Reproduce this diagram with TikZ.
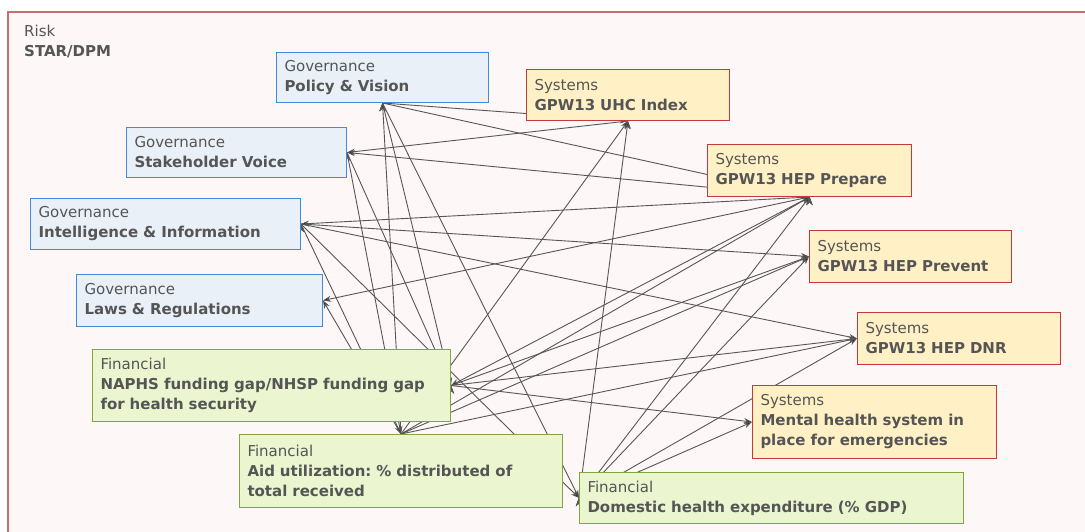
\documentclass[tikz,border=0pt]{standalone}
\usepackage{fontspec}
\setmainfont{DejaVu Sans}
\usetikzlibrary{arrows.meta}
\frenchspacing

\definecolor{govfill}{HTML}{EAF0F8}
\definecolor{govline}{HTML}{3D8BD9}
\definecolor{sysfill}{HTML}{FFF0C6}
\definecolor{sysline}{HTML}{C23A3A}
\definecolor{finfill}{HTML}{EBF5D0}
\definecolor{finline}{HTML}{7FA83C}
\definecolor{riskfill}{HTML}{FDF7F7}
\definecolor{riskline}{HTML}{C86E6E}
\definecolor{ink}{HTML}{555555}
\definecolor{wire}{HTML}{575757}

\pgfdeclarelayer{back}
\pgfdeclarelayer{wires}
\pgfsetlayers{back,wires,main}

\tikzset{
  box/.style={draw, line width=1pt, anchor=north west, align=left, inner xsep=8pt, inner ysep=0pt,
    font=\fontsize{15}{20}\selectfont, text=ink},
  gov/.style={box, fill=govfill, draw=govline},
  sys/.style={box, fill=sysfill, draw=sysline},
  fin/.style={box, fill=finfill, draw=finline},
  link/.style={draw=wire, line width=0.9pt, -{Stealth[length=8pt,width=6pt]}}
}

\begin{document}
\begin{tikzpicture}[x=1pt,y=-1pt]
  \useasboundingbox (0,0) rectangle (1085,532);
  \clip (0,0) rectangle (1085,532);

  \begin{pgfonlayer}{back}
    \draw[draw=riskline, fill=riskfill, line width=1.2pt] (8,12) rectangle (1110,560);
  \end{pgfonlayer}
  \draw (24,25) node[anchor=north west, inner sep=0pt, align=left, text=ink,
      font=\fontsize{15}{20}\selectfont] (risk) {Risk\\\textbf{STAR/DPM}};

  \draw (276,52) node[gov, minimum width=212pt, minimum height=50pt, text width=196pt] (policy) {Governance\\\textbf{Policy \& Vision}};
  \draw (126,127) node[gov, minimum width=220pt, minimum height=50pt, text width=204pt] (stake) {Governance\\\textbf{Stakeholder Voice}};
  \draw (30,198) node[gov, minimum width=270pt, minimum height=51pt, text width=254pt] (intel) {Governance\\\textbf{Intelligence \& Information}};
  \draw (76,274) node[gov, minimum width=246pt, minimum height=52pt, text width=230pt] (laws) {Governance\\\textbf{Laws \& Regulations}};

  \draw (92,349) node[fin, minimum width=358pt, minimum height=72pt, text width=342pt] (naphs) {Financial\\\textbf{NAPHS funding gap/NHSP funding gap}\\\textbf{for health security}};
  \draw (239,434) node[fin, minimum width=323pt, minimum height=73pt, text width=307pt] (aid) {Financial\\\textbf{Aid utilization: \% distributed of}\\\textbf{total received}};
  \draw (579,472) node[fin, minimum width=384pt, minimum height=51pt, text width=368pt] (dom) {Financial\\\textbf{Domestic health expenditure (\% GDP)}};

  \draw (526,69) node[sys, minimum width=203pt, minimum height=51pt, text width=187pt] (uhc) {Systems\\\textbf{GPW13 UHC Index}};
  \draw (707,144) node[sys, minimum width=204pt, minimum height=52pt, text width=188pt] (prep) {Systems\\\textbf{GPW13 HEP Prepare}};
  \draw (809,230) node[sys, minimum width=202pt, minimum height=52pt, text width=186pt] (prev) {Systems\\\textbf{GPW13 HEP Prevent}};
  \draw (857,312) node[sys, minimum width=203pt, minimum height=52pt, text width=187pt] (dnr) {Systems\\\textbf{GPW13 HEP DNR}};
  \draw (752,385) node[sys, minimum width=244pt, minimum height=73pt, text width=228pt] (mental) {Systems\\\textbf{Mental health system in}\\\textbf{place for emergencies}};

  \begin{pgfonlayer}{wires}
    \path[link] (policy.south) edge (uhc.south);
    \path[link] (policy.south) edge (prep.south);
    \path[link] (policy.south) edge (naphs.east);
    \path[link] (policy.south) edge (dom.west);
    \path[link] (aid.north) edge (policy.south);
    \path[link] (uhc.south) edge (stake.east);
    \path[link] (prep.south) edge (stake.east);
    \path[link] (stake.east) edge (naphs.east);
    \path[link] (stake.east) edge (aid.north);
    \path[link] (prep.south) edge (intel.east);
    \path[link] (intel.east) edge (prev.west);
    \path[link] (intel.east) edge (dnr.west);
    \path[link] (intel.east) edge (aid.north);
    \path[link] (intel.east) edge (dom.west);
    \path[link] (prep.south) edge (laws.east);
    \path[link] (aid.north) edge (laws.east);
    \path[link] (aid.north) edge (uhc.south);
    \path[link] (dom.west) edge (uhc.south);
    \path[link] (prep.south) edge (naphs.east);
    \path[link] (aid.north) edge (prep.south);
    \path[link] (dom.west) edge (prep.south);
    \path[link] (naphs.east) edge (prev.west);
    \path[link] (aid.north) edge (prev.west);
    \path[link] (dom.west) edge (prev.west);
    \path[link] (naphs.east) edge (dnr.west);
    \path[link] (aid.north) edge (dnr.west);
    \path[link] (dom.west) edge (dnr.west);
    \path[link] (naphs.east) edge (mental.west);
    \path[link] (dom.west) edge (mental.west);
  \end{pgfonlayer}
\end{tikzpicture}
\end{document}
